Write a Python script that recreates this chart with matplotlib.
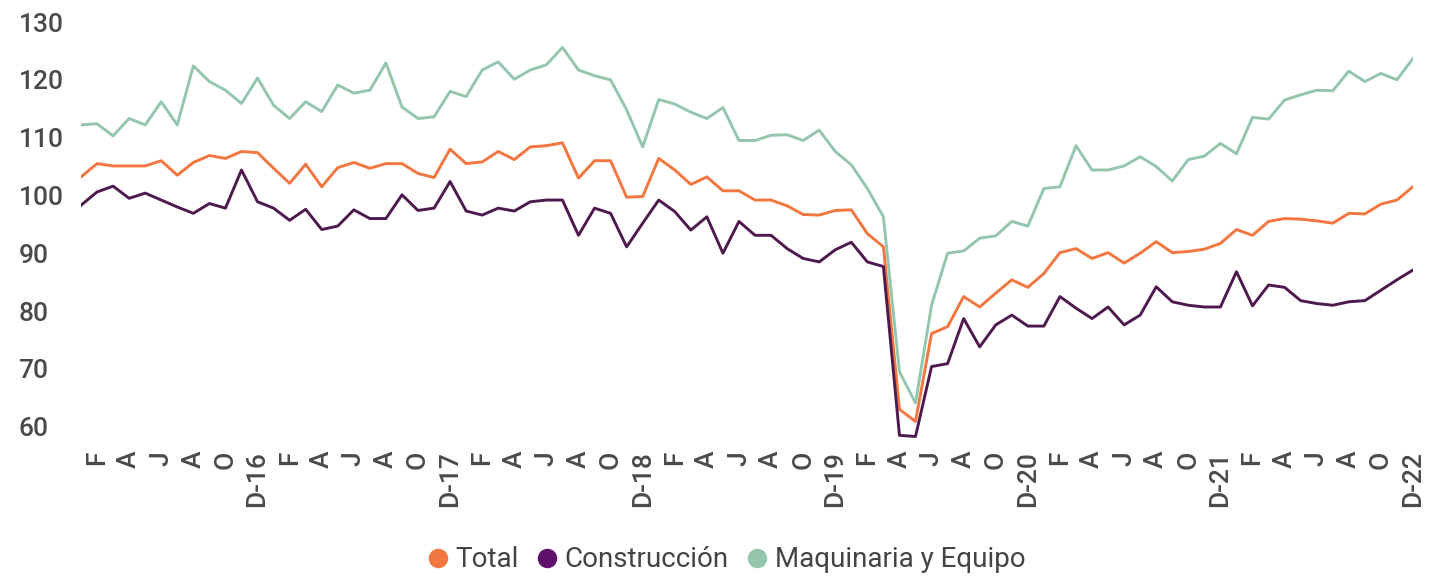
import matplotlib
matplotlib.use("Agg")
import matplotlib.pyplot as plt
import numpy as np

plt.rcParams['font.family'] = ['Roboto', 'DejaVu Sans']
plt.rcParams['font.weight'] = 'medium'

# monthly index values, Jan 2016 .. Dec 2022
total = [103.2, 105.5, 105.1, 105.1, 105.1, 106.0, 103.5, 105.7, 106.9, 106.4, 107.6, 107.4,
         104.7, 102.1, 105.4, 101.5, 104.8, 105.7, 104.7, 105.5, 105.5, 103.8, 103.1, 108.0,
         105.5, 105.8, 107.6, 106.2, 108.4, 108.6, 109.1, 103.0, 106.0, 106.0, 99.7, 99.8,
         106.4, 104.4, 101.9, 103.2, 100.8, 100.8, 99.2, 99.2, 98.2, 96.7, 96.6, 97.4,
         97.5, 93.4, 91.1, 63.0, 60.9, 76.1, 77.3, 82.5, 80.7, 83.1, 85.4, 84.1,
         86.5, 90.1, 90.8, 89.1, 90.1, 88.3, 90.0, 92.0, 90.1, 90.3, 90.7, 91.7,
         94.1, 93.1, 95.5, 96.0, 95.9, 95.6, 95.2, 96.9, 96.8, 98.5, 99.2, 101.5]

construccion = [98.3, 100.6, 101.6, 99.5, 100.4, 99.2, 98.0, 96.9, 98.6, 97.8, 104.4, 98.9,
                97.8, 95.7, 97.6, 94.1, 94.7, 97.5, 96.0, 96.0, 100.1, 97.4, 97.8, 102.4,
                97.3, 96.6, 97.8, 97.3, 98.9, 99.2, 99.2, 93.1, 97.8, 96.9, 91.1, 95.2,
                99.2, 97.2, 94.0, 96.3, 90.0, 95.5, 93.1, 93.1, 90.8, 89.1, 88.5, 90.6,
                91.9, 88.5, 87.7, 58.5, 58.3, 70.4, 70.9, 78.7, 73.8, 77.6, 79.3, 77.4,
                77.4, 82.5, 80.5, 78.7, 80.7, 77.6, 79.3, 84.2, 81.6, 81.0, 80.7, 80.7,
                86.8, 80.9, 84.5, 84.1, 81.8, 81.3, 81.0, 81.6, 81.8, 83.6, 85.4, 87.1]

maquinaria = [112.2, 112.4, 110.3, 113.3, 112.2, 116.2, 112.2, 122.4, 119.7, 118.2, 115.9, 120.3,
              115.6, 113.3, 116.2, 114.5, 119.1, 117.7, 118.2, 122.9, 115.3, 113.3, 113.6, 118.0,
              117.1, 121.7, 123.1, 120.1, 121.7, 122.6, 125.6, 121.7, 120.7, 120.0, 114.8, 108.4,
              116.6, 115.8, 114.4, 113.3, 115.2, 109.5, 109.5, 110.4, 110.5, 109.5, 111.3, 107.6,
              105.3, 101.2, 96.3, 69.5, 64.1, 81.0, 90.0, 90.4, 92.6, 93.0, 95.5, 94.7,
              101.2, 101.5, 108.6, 104.4, 104.4, 105.1, 106.7, 105.0, 102.5, 106.2, 106.8, 109.0,
              107.2, 113.5, 113.2, 116.5, 117.4, 118.2, 118.1, 121.5, 119.7, 121.1, 120.0, 123.7]

years = ['16', '17', '18', '19', '20', '21', '22']
month_letters = ['E', 'F', 'M', 'A', 'M', 'J', 'J', 'A', 'S', 'O', 'N', 'D']

series_names = ['Total', 'Construcción', 'Maquinaria y Equipo']
colors = ['#F2763F', '#4E1A4E', '#93C6AD']

x = np.arange(len(total))
labels = []
for y in years:
    for m, letter in enumerate(month_letters):
        if m == 11:
            labels.append('D-' + y)
        else:
            labels.append(letter)

fig = plt.figure(figsize=(14.29, 5.76), dpi=100)
ax = fig.add_axes([81 / 1429, 1 - 444 / 576, (1413 - 81) / 1429, 422 / 576])

for data, name, c in zip([total, construccion, maquinaria], series_names, colors):
    ax.plot(x, data, color=c, linewidth=2.1, solid_joinstyle='round', label=name)

ax.set_xlim(0, len(total) - 1)
ax.set_ylim(57, 130)
ax.set_yticks(range(60, 131, 10))
ax.set_xticks(x[1::2])
ax.set_xticklabels(labels[1::2], rotation=90, va='top', ha='center')

for s in ax.spines.values():
    s.set_visible(False)
ax.tick_params(axis='both', length=0, labelsize=19, labelcolor='#4a4a4a')
ax.tick_params(axis='y', pad=45)
ax.tick_params(axis='x', pad=5)
for lab in ax.get_yticklabels():
    lab.set_ha('left')

handles = [plt.Line2D([], [], marker='o', linestyle='none', markersize=13,
                      markerfacecolor=c, markeredgecolor=c) for c in ['#F2763F', '#5E106B', '#93C6AD']]
leg = fig.legend(handles, series_names, loc='center', bbox_to_anchor=(0.507, 0.028), ncol=3,
                 frameon=False, handletextpad=0.15, columnspacing=0.5,
                 labelcolor='#444444', handlelength=1.0,
                 prop={'family': 'Roboto', 'size': 20, 'weight': 'normal'})

fig.savefig('out.png', dpi=100)
